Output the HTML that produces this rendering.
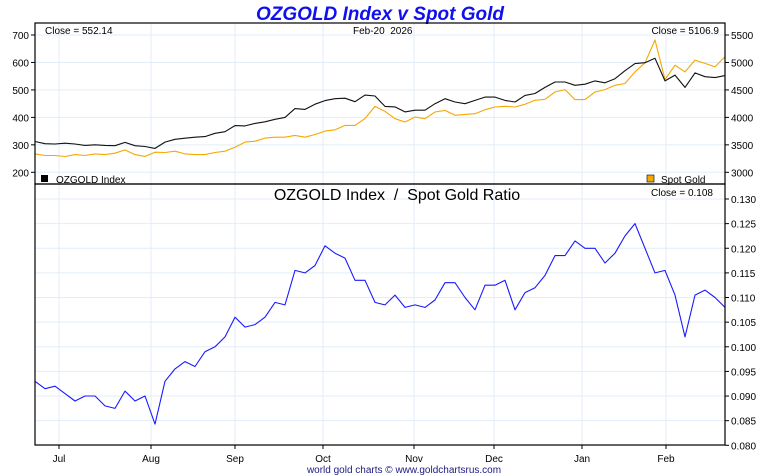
<!DOCTYPE html>
<html><head><meta charset="utf-8"><style>
body{margin:0;background:#fff;}
svg{display:block;font-family:"Liberation Sans",sans-serif;}
</style></head><body>
<svg id="chart" width="760" height="475" xmlns="http://www.w3.org/2000/svg">
<text x="380" y="20" text-anchor="middle" font-size="19" font-weight="bold" font-style="italic" fill="#1010ee">OZGOLD Index v Spot Gold</text>
<g id="grid"></g>
<g id="series"></g>
<g id="axes"></g>
<rect x="35" y="23" width="690" height="161" fill="none" stroke="#000" stroke-width="1.2"/>
<rect x="35" y="184" width="690" height="261" fill="none" stroke="#000" stroke-width="1.2"/>
<text x="45" y="34" font-size="10">Close = 552.14</text>
<text x="353" y="34" font-size="10" xml:space="preserve" style="white-space:pre">Feb-20  2026</text>
<text x="719" y="34" font-size="10" text-anchor="end">Close = 5106.9</text>
<rect x="41" y="175" width="7" height="7" fill="#000"/>
<text x="56" y="183" font-size="10">OZGOLD Index</text>
<rect x="647" y="175" width="7" height="7" fill="#f5a800" stroke="#000" stroke-width="0.6"/>
<text x="661" y="183" font-size="10">Spot Gold</text>
<text x="397" y="200" font-size="16" text-anchor="middle" xml:space="preserve" style="white-space:pre">OZGOLD Index  /  Spot Gold Ratio</text>
<text x="713" y="196" font-size="10" text-anchor="end">Close = 0.108</text>
<text x="404" y="473" font-size="10" text-anchor="middle" fill="#1a1a80">world gold charts © www.goldchartsrus.com</text>
</svg>
<script>
const ozgold=[312,304,303,306,303,298,300,298,297,309,297,294,287,310,320,324,328,330,342,348,370,369,378,384,393,400,432,429,448,461,468,470,457,481,478,440,438,420,426,426,450,468,456,450,462,474,474,462,456,480,487,509,529,529,517,521,533,526,541,570,596,599,615,533,554,509,562,548,545,552];
const gold=[3335,3305,3305,3287,3323,3305,3335,3323,3347,3408,3323,3290,3366,3360,3384,3335,3323,3323,3360,3384,3457,3549,3567,3622,3640,3640,3671,3640,3689,3750,3774,3854,3854,3980,4200,4110,3976,3915,4006,3976,4098,4128,4037,4055,4067,4140,4189,4201,4189,4238,4311,4329,4463,4506,4323,4323,4463,4506,4585,4616,4829,4994,5409,4689,4951,4829,5043,4982,4920,5107];
const ratio=[0.093,0.0915,0.092,0.0905,0.089,0.090,0.090,0.088,0.0875,0.091,0.089,0.090,0.0843,0.093,0.0955,0.097,0.096,0.099,0.100,0.102,0.106,0.104,0.1045,0.106,0.109,0.1085,0.1155,0.115,0.1165,0.1205,0.119,0.118,0.1135,0.1135,0.109,0.1085,0.1105,0.108,0.1085,0.108,0.1095,0.113,0.113,0.110,0.1075,0.1125,0.1125,0.1135,0.1075,0.111,0.112,0.1145,0.1185,0.1185,0.1215,0.120,0.120,0.117,0.119,0.1225,0.125,0.120,0.115,0.1155,0.1105,0.102,0.1105,0.1115,0.110,0.108];
const monthLabels=["Jul","Aug","Sep","Oct","Nov","Dec","Jan","Feb"];
const monthIdx=[2.4,11.6,20,28.8,37.9,45.9,54.7,63.1];
const leftTicks=[200,300,400,500,600,700];
const rightTicks=[3000,3500,4000,4500,5000,5500];
const ratioTicks=[0.080,0.085,0.090,0.095,0.100,0.105,0.110,0.115,0.120,0.125,0.130];

const NS="http://www.w3.org/2000/svg";
const X0=35,X1=725;
const xs=i=>X0+i*(X1-X0)/(ozgold.length-1);
const yL=v=>35+(700-v)*(172.3-35)/500;
const yR=v=>35+(5500-v)*(172.3-35)/2500;
const yQ=v=>199+(0.130-v)*(445.3-199)/0.05;
function mk(tag,attrs,parent){const e=document.createElementNS(NS,tag);for(const k in attrs)e.setAttribute(k,attrs[k]);document.getElementById(parent).appendChild(e);return e;}
const gc="#e2edf8";
monthIdx.forEach((m,i)=>{
  const x=xs(m);
  let l=mk('line',{x1:x,x2:x,y1:23,y2:184,stroke:gc},'grid');
  
  
  l=mk('line',{x1:x,x2:x,y1:184,y2:445,stroke:gc},'grid');
  
  
  l=mk('line',{x1:x,x2:x,y1:445,y2:449,stroke:'#000'},'axes');
  
  
  const t=mk('text',{x:x,y:462,'font-size':10,'text-anchor':'middle'},'axes');
  t.textContent=monthLabels[i];
  
  
});
leftTicks.forEach(v=>{
  const y=yL(v);
  let l=mk('line',{x1:X0,x2:X1,y1:y,y2:y,stroke:gc},'grid');
  
  
  l=mk('line',{x1:31,x2:35,y1:y,y2:y,stroke:'#000'},'axes');
  
  
  const t=mk('text',{x:29,y:y+4,'font-size':10,'text-anchor':'end'},'axes');
  t.textContent=v;
  
  
});
rightTicks.forEach(v=>{
  const y=yR(v);
  let l=mk('line',{x1:725,x2:729,y1:y,y2:y,stroke:'#000'},'axes');
  
  
  const t=mk('text',{x:731,y:y+4,'font-size':10},'axes');
  t.textContent=v;
  
  
});
ratioTicks.forEach(v=>{
  const y=yQ(v);
  let l=mk('line',{x1:X0,x2:X1,y1:y,y2:y,stroke:gc},'grid');
  
  
  l=mk('line',{x1:725,x2:729,y1:y,y2:y,stroke:'#000'},'axes');
  
  
  const t=mk('text',{x:731,y:y+4,'font-size':10},'axes');
  t.textContent=v.toFixed(3);
  
  
});
let l=mk('line',{x1:725,x2:725,y1:23,y2:445,stroke:'#000'},'axes');


function path(arr,fy,color,name){
  const d=arr.map((v,i)=>(i?'L':'M')+xs(i).toFixed(1)+','+fy(v).toFixed(1)).join('');
  const p=mk('path',{d:d,fill:'none',stroke:color,'stroke-width':1.1,'stroke-linejoin':'round'},'series');
  
  
}
path(gold,yR,'#f5a800','spot-gold-line');
path(ozgold,yL,'#111','ozgold-line');
path(ratio,yQ,'#1a1aff','ratio-line');
</script>
</body></html>
